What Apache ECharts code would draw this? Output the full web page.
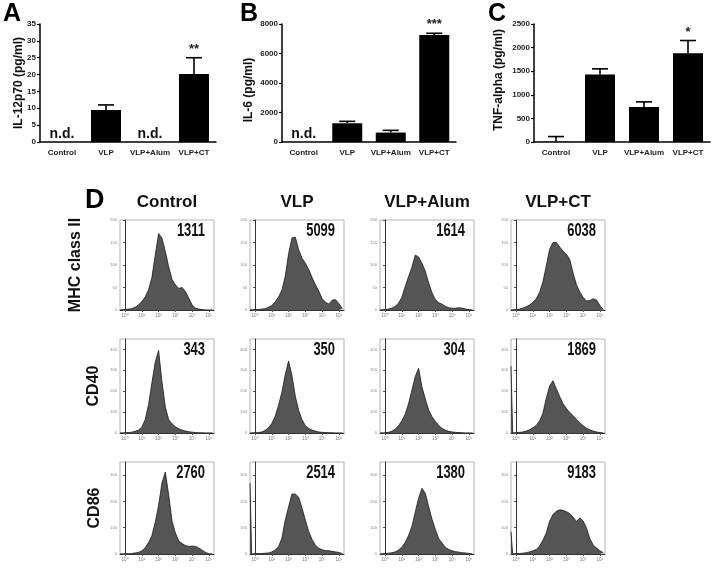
<!DOCTYPE html>
<html><head><meta charset="utf-8">
<script src="https://cdn.jsdelivr.net/npm/echarts@6/dist/echarts.min.js"></script>
<style>html,body{margin:0;padding:0;background:#fff}#c{width:714px;height:570px}</style>
</head><body><div id="c"></div>
<script>
// ---------- Panel A-C data ----------
const groups = ['Control', 'VLP', 'VLP+Alum', 'VLP+CT'];
const il12Mean = [0, 9.5, 0, 20.2];
const il12Err = [0, 1.5, 0, 4.8];
const il12ND = [true, false, true, false];
const il12Stars = ['', '', '', '**'];
const il6Mean = [0, 1270, 640, 7250];
const il6Err = [0, 130, 150, 120];
const il6ND = [true, false, false, false];
const il6Stars = ['', '', '', '***'];
const tnfMean = [5, 1430, 740, 1880];
const tnfErr = [110, 120, 110, 270];
const tnfND = [false, false, false, false];
const tnfStars = ['', '', '', '*'];

// ---------- Panel D data ----------
const markers = ['MHC class II', 'CD40', 'CD86'];
const histTickLabels = ['10\u2070', '10\u00b9', '10\u00b2', '10\u00b3', '10\u2074', '10\u2075'];
const bins = [-0.2, 0, 0.2, 0.4, 0.6, 0.8, 1.0, 1.2, 1.4, 1.6, 1.8, 2.0, 2.2, 2.4, 2.6, 2.8, 3.0, 3.2, 3.4, 3.6, 3.8, 4.0, 4.2, 4.4, 4.6, 4.8, 5.0, 5.2];
const mhcControl = [0,1,2,3,6,11,19,29,45,72,122,170,160,130,96,68,56,48,50,41,26,11,4,2,1,0,0,0];
const mhcVLP     = [0,1,1,2,3,6,10,18,29,44,75,125,160,162,134,115,104,90,72,56,42,25,17,13,22,23,14,3];
const mhcAlum    = [0,1,2,4,8,15,28,52,74,95,122,118,104,86,60,38,23,16,13,8,5,4,4,5,4,2,1,0];
const mhcCT      = [0,1,2,4,7,11,17,25,39,62,98,135,150,150,140,131,124,112,82,56,40,28,20,21,25,22,10,1];
const cd40Control = [0,1,2,4,8,14,28,64,135,240,340,395,245,125,64,44,30,20,14,9,6,4,2,1,1,0,0,0];
const cd40VLP     = [0,1,2,5,12,25,46,80,133,195,280,345,275,175,108,64,35,22,14,9,5,3,2,1,1,0,0,0];
const cd40Alum    = [0,1,3,8,18,35,58,90,140,205,270,310,220,163,110,78,55,36,22,13,8,5,3,2,1,0,0,0];
const cd40CT      = [0,2,3,5,9,15,25,36,58,95,165,225,250,212,175,140,117,98,83,66,49,35,23,15,9,5,2,0];
const cd86Control = [0,1,1,2,4,6,12,24,44,70,120,185,270,312,225,125,80,50,40,32,29,30,29,23,14,6,1,0];
const cd86VLP     = [0,2,2,2,3,4,8,15,28,60,129,180,228,228,216,174,129,85,55,33,22,16,13,12,10,8,6,2];
const cd86Alum    = [0,2,3,5,8,15,26,44,70,105,160,212,250,231,180,132,93,58,42,25,17,12,9,7,5,4,2,0];
const cd86CT      = [0,2,2,3,5,8,12,17,30,52,80,125,150,163,168,166,161,154,140,124,137,126,98,58,34,22,12,5];
const spikeMHC = [0, 0, 0, 0];
const spikeCD40 = [0, 0, 0, 320];
const spikeCD86 = [0, 270, 0, 85];
const mfiMHC = ['1311', '5099', '1614', '6038'];
const mfiCD40 = ['343', '350', '304', '1869'];
const mfiCD86 = ['2760', '2514', '1380', '9183'];

// ---------- build ----------
const FONT = '"Liberation Sans", Arial, Helvetica, sans-serif';
const grids = [], xAxes = [], yAxes = [], series = [], graphic = [];

const barPanels = [
  {left: 40, width: 176, mean: il12Mean, err: il12Err, nd: il12ND, stars: il12Stars, max: 35, interval: 5},
  {left: 282, width: 174, mean: il6Mean, err: il6Err, nd: il6ND, stars: il6Stars, max: 8000, interval: 2000},
  {left: 534, width: 176, mean: tnfMean, err: tnfErr, nd: tnfND, stars: tnfStars, max: 2500, interval: 500}
];
barPanels.forEach((p, k) => {
  grids.push({left: p.left, top: 24, width: p.width, height: 118});
  xAxes.push({type: 'category', gridIndex: k, data: groups,
    axisLine: {lineStyle: {color: '#000', width: 1.5}}, axisTick: {show: false},
    axisLabel: {interval: 0, fontSize: 8, fontWeight: 'bold', color: '#222', margin: 7, fontFamily: FONT}});
  yAxes.push({type: 'value', gridIndex: k, min: 0, max: p.max, interval: p.interval,
    axisLine: {show: true, lineStyle: {color: '#000', width: 1.5}},
    axisTick: {show: true, length: 3, lineStyle: {color: '#000', width: 1.2}},
    axisLabel: {fontSize: 8, fontWeight: 'bold', color: '#222', margin: 4, fontFamily: FONT, formatter: v => String(v)},
    splitLine: {show: false}});
  series.push({type: 'bar', xAxisIndex: k, yAxisIndex: k, barWidth: 30,
    itemStyle: {color: '#000'},
    data: p.mean.map((v, i) => ({value: v, label: {show: p.nd[i], formatter: 'n.d.', position: 'top', distance: 1,
      fontSize: 14, fontWeight: 'bold', color: '#111', fontFamily: FONT}}))});
  series.push({type: 'custom', xAxisIndex: k, yAxisIndex: k, z: 5,
    data: p.mean.map((v, i) => [i, v, p.err[i]]),
    renderItem: (params, api) => {
      const i = api.value(0), v = api.value(1), e = api.value(2);
      const children = [];
      if (e > 0) {
        const a = api.coord([i, v]), b = api.coord([i, v + e]);
        children.push({type: 'line', shape: {x1: a[0], y1: a[1], x2: b[0], y2: b[1]}, style: {stroke: '#000', lineWidth: 1.6}});
        children.push({type: 'line', shape: {x1: b[0] - 8, y1: b[1], x2: b[0] + 8, y2: b[1]}, style: {stroke: '#000', lineWidth: 1.6}});
        const s = p.stars[params.dataIndex];
        if (s) children.push({type: 'text', x: b[0], y: b[1] - 2, style: {text: s, align: 'center', verticalAlign: 'bottom',
          font: 'bold 13px ' + FONT, fill: '#222'}});
      }
      return {type: 'group', children};
    }});
});

const histRows = [
  {top: 220, height: 90, max: 200, ticks: [0, 50, 100, 150, 200], data: [mhcControl, mhcVLP, mhcAlum, mhcCT], spike: spikeMHC, mfi: mfiMHC},
  {top: 339, height: 94, max: 450, ticks: [0, 100, 200, 300, 400], data: [cd40Control, cd40VLP, cd40Alum, cd40CT], spike: spikeCD40, mfi: mfiCD40},
  {top: 462, height: 92, max: 350, ticks: [0, 100, 200, 300], data: [cd86Control, cd86VLP, cd86Alum, cd86CT], spike: spikeCD86, mfi: mfiCD86}
];
const colLeft = [120, 250, 380, 511];
const boxW = 94;
histRows.forEach((r, ri) => {
  colLeft.forEach((L, ci) => {
    const k = grids.length;
    grids.push({left: L, top: r.top, width: boxW, height: r.height, show: true, borderColor: '#b5b5b5', borderWidth: 1});
    xAxes.push({type: 'value', gridIndex: k, min: -0.3, max: 5.3,
      axisLine: {lineStyle: {color: '#333', width: 1}},
      axisTick: {customValues: [0, 1, 2, 3, 4, 5], length: 2, lineStyle: {color: '#555'}},
      axisLabel: {customValues: [0, 1, 2, 3, 4, 5], formatter: v => histTickLabels[Math.round(v)], fontSize: 4.5, color: '#777', margin: 3},
      splitLine: {show: false}});
    yAxes.push({type: 'value', gridIndex: k, min: 0, max: r.max,
      axisLine: {show: true, lineStyle: {color: '#333', width: 1}},
      axisTick: {show: true, customValues: r.ticks, length: 2, lineStyle: {color: '#555'}},
      axisLabel: {customValues: r.ticks, fontSize: 4, color: '#888', margin: 3},
      splitLine: {show: false}});
    const pts = [[-0.3, r.spike[ci]]].concat(bins.map((x, i) => [x, r.data[ci][i]]));
    series.push({type: 'line', xAxisIndex: k, yAxisIndex: k, data: pts, symbol: 'none', smooth: false,
      lineStyle: {color: '#1a1a1a', width: 0.8}, areaStyle: {color: '#555', opacity: 1}});
    graphic.push({type: 'text', x: L + boxW - 9, y: r.top + 11, scaleX: 0.72,
      style: {text: r.mfi[ci], align: 'right', verticalAlign: 'middle', font: 'bold 18px ' + FONT, fill: '#111'}});
  });
});

// panel letters & titles
[['A', 3], ['B', 240], ['C', 488]].forEach(([t, x]) => graphic.push({type: 'text', x, y: 14,
  style: {text: t, align: 'left', verticalAlign: 'middle', font: 'bold 25px ' + FONT, fill: '#000'}}));
graphic.push({type: 'text', x: 85, y: 201, style: {text: 'D', align: 'left', verticalAlign: 'middle', font: 'bold 27px ' + FONT, fill: '#000'}});
[['IL-12p70 (pg/ml)', 19, 83], ['IL-6 (pg/ml)', 249, 90], ['TNF-alpha (pg/ml)', 499, 80]].forEach(([t, x, y]) =>
  graphic.push({type: 'text', x, y, rotation: Math.PI / 2, style: {text: t, align: 'center', verticalAlign: 'middle',
    font: 'bold 12px ' + FONT, fill: '#111'}}));
groups.forEach((g, ci) => graphic.push({type: 'text', x: colLeft[ci] + boxW / 2, y: 202,
  style: {text: g, align: 'center', verticalAlign: 'middle', font: 'bold 17px ' + FONT, fill: '#111'}}));
[[markers[0], 76, 265], [markers[1], 94, 386], [markers[2], 95, 508]].forEach(([t, x, y]) =>
  graphic.push({type: 'text', x, y, rotation: Math.PI / 2, style: {text: t, align: 'center', verticalAlign: 'middle',
    font: 'bold 16px ' + FONT, fill: '#111'}}));

const chart = echarts.init(document.getElementById('c'));
chart.setOption({animation: false, backgroundColor: '#fff', grid: grids, xAxis: xAxes, yAxis: yAxes, series, graphic});
</script></body></html>
